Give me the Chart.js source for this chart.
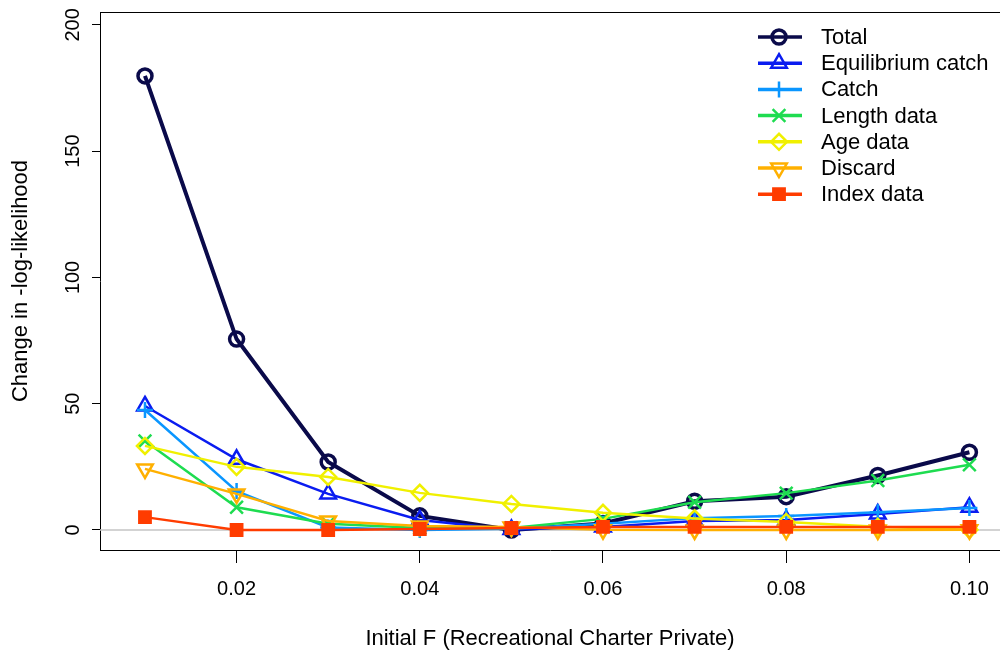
<!DOCTYPE html>
<html>
<head>
<meta charset="utf-8">
<script src="https://cdn.jsdelivr.net/npm/chart.js@4.4.1/dist/chart.umd.min.js"></script>
<style>
  html, body { margin: 0; padding: 0; background: #fff; }
  #wrap { width: 1000px; height: 654px; }
</style>
</head>
<body>
<div id="wrap"><canvas id="chart" width="1000" height="654"></canvas></div>
<script>
// values
const initialF = [0.01, 0.02, 0.03, 0.04, 0.05, 0.06, 0.07, 0.08, 0.09, 0.10];
const total = [179.8, 75.6, 26.9, 5.6, 0.0, 2.6, 11.4, 13.2, 21.6, 30.8];
const equilibriumCatch = [49.1, 28.0, 14.3, 4.0, 0.2, 1.2, 3.6, 4.0, 6.3, 9.0];
const catchLike = [47.5, 15.4, 1.0, 0.0, 0.5, 2.5, 4.7, 5.5, 7.0, 8.7];
const lengthData = [35.2, 9.0, 2.5, 0.8, 0.8, 4.4, 11.0, 14.6, 19.6, 25.8];
const ageData = [33.3, 25.0, 21.0, 14.7, 10.3, 6.8, 4.6, 3.2, 1.3, 0.1];
const discard = [24.2, 14.3, 3.6, 1.6, 1.2, 0.1, 0.0, 0.0, 0.0, 0.1];
const indexData = [5.1, 0.0, 0.0, 0.4, 0.8, 1.2, 1.2, 1.2, 1.2, 1.2];

const xTicks = [0.02, 0.04, 0.06, 0.08, 0.10];
const yTicks = [0, 50, 100, 150, 200];

const FONT = '"Liberation Sans", Arial, sans-serif';

function pts(arr) {
    return initialF.map(function(f, i) { return { x: f, y: arr[i] }; });
}

function series(label, arr, color, style, opts) {
    return Object.assign({
        label: label,
        data: pts(arr),
        borderColor: color,
        backgroundColor: 'rgba(0,0,0,0)',
        pointBorderColor: color,
        pointBackgroundColor: 'rgba(0,0,0,0)',
        pointStyle: style,
        pointRadius: 8,
        pointBorderWidth: 2.5,
        pointRotation: 0,
        borderWidth: 2.5,
        tension: 0
    }, opts || {});
}

const datasets = [
    series('Total', total, '#0a0a4a', 'circle', { borderWidth: 4, pointRadius: 7, pointBorderWidth: 3.5, order: 7 }),
    series('Equilibrium catch', equilibriumCatch, '#0a1cf0', 'triangle', { pointRadius: 9, order: 6 }),
    series('Catch', catchLike, '#0a96ff', 'cross', { order: 5 }),
    series('Length data', lengthData, '#1edc50', 'crossRot', { pointRadius: 9, order: 4 }),
    series('Age data', ageData, '#f0f000', 'rectRot', { order: 3 }),
    series('Discard', discard, '#ffb000', 'triangle', { pointRadius: 9, pointRotation: 180, order: 2 }),
    series('Index data', indexData, '#ff3c00', 'rect', { pointBackgroundColor: '#ff3c00', pointRadius: 8, order: 1 })
];

// frame, zero line, rotated y labels and the R-style legend
const extras = {
    id: 'extras',
    beforeDatasetsDraw: function(chart) {
        const ctx = chart.ctx, a = chart.chartArea;
        const y0 = chart.scales.y.getPixelForValue(0);
        ctx.save();
        ctx.strokeStyle = '#c4c4c4';
        ctx.lineWidth = 1.5;
        ctx.beginPath();
        ctx.moveTo(a.left, y0);
        ctx.lineTo(a.right, y0);
        ctx.stroke();
        ctx.restore();
    },
    afterDraw: function(chart) {
        const ctx = chart.ctx, a = chart.chartArea, ys = chart.scales.y;
        ctx.save();
        // top border of the box
        ctx.strokeStyle = '#000';
        ctx.lineWidth = 1;
        ctx.beginPath();
        ctx.moveTo(a.left, a.top + 0.5);
        ctx.lineTo(a.right, a.top + 0.5);
        ctx.stroke();

        // y tick labels, rotated like R's las=0
        ctx.fillStyle = '#000';
        ctx.font = '20px ' + FONT;
        ctx.textAlign = 'center';
        ctx.textBaseline = 'middle';
        yTicks.forEach(function(v) {
            ctx.save();
            ctx.translate(73, ys.getPixelForValue(v));
            ctx.rotate(-Math.PI / 2);
            ctx.fillText(String(v), 0, 0);
            ctx.restore();
        });

        // legend
        chart.data.datasets.forEach(function(ds, i) {
            const y = 37 + i * 26.2;
            ctx.strokeStyle = ds.borderColor;
            ctx.lineWidth = 3.5;
            ctx.beginPath();
            ctx.moveTo(758, y);
            ctx.lineTo(802, y);
            ctx.stroke();
            ctx.fillStyle = ds.pointBackgroundColor;
            ctx.lineWidth = ds.pointBorderWidth;
            Chart.helpers.drawPoint(ctx, {
                pointStyle: ds.pointStyle,
                rotation: ds.pointRotation,
                radius: ds.pointRadius,
                borderWidth: ds.pointBorderWidth
            }, 779, y);
            ctx.fillStyle = '#000';
            ctx.textAlign = 'left';
            ctx.textBaseline = 'middle';
            ctx.font = '22px ' + FONT;
            ctx.fillText(ds.label, 821, y + 1);
        });
        ctx.restore();
    }
};

const config = {
    type: 'line',
    data: { datasets: datasets },
    options: {
        responsive: false,
        animation: false,
        devicePixelRatio: 1,
        layout: { autoPadding: false, padding: { top: 12, right: 0, left: 0, bottom: 0 } },
        plugins: {
            legend: { display: false },
            tooltip: { enabled: false },
            title: { display: false }
        },
        scales: {
            x: {
                type: 'linear',
                min: 0.00509,
                max: 0.10334,
                afterBuildTicks: function(scale) {
                    scale.ticks = xTicks.map(function(v) { return { value: v }; });
                },
                afterFit: function(scale) {
                    scale.height = 104;
                    scale.paddingLeft = 0;
                    scale.paddingRight = 0;
                },
                grid: { drawOnChartArea: false, drawTicks: true, tickLength: 13, tickColor: '#000', color: '#000' },
                border: { display: true, color: '#000', width: 1 },
                ticks: {
                    color: '#000',
                    padding: 14,
                    maxRotation: 0,
                    font: { family: FONT, size: 20 },
                    callback: function(v) { return Number(v).toFixed(2); }
                },
                title: {
                    display: true,
                    text: 'Initial F (Recreational Charter Private)',
                    color: '#000',
                    font: { family: FONT, size: 22 },
                    padding: { top: 0, bottom: 2 }
                }
            },
            y: {
                type: 'linear',
                min: -7.92,
                max: 205.1,
                afterBuildTicks: function(scale) {
                    scale.ticks = yTicks.map(function(v) { return { value: v }; });
                },
                afterFit: function(scale) {
                    scale.width = 100;
                    scale.paddingTop = 0;
                    scale.paddingBottom = 0;
                },
                grid: { drawOnChartArea: false, drawTicks: true, tickLength: 8, tickColor: '#000', color: '#000' },
                border: { display: true, color: '#000', width: 1 },
                ticks: { display: false },
                title: {
                    display: true,
                    text: 'Change in -log-likelihood',
                    color: '#000',
                    font: { family: FONT, size: 22 },
                    padding: { top: 8, bottom: 0 }
                }
            }
        }
    },
    plugins: [extras]
};

const ctx = document.getElementById('chart').getContext('2d');
new Chart(ctx, config);
</script>
</body>
</html>
